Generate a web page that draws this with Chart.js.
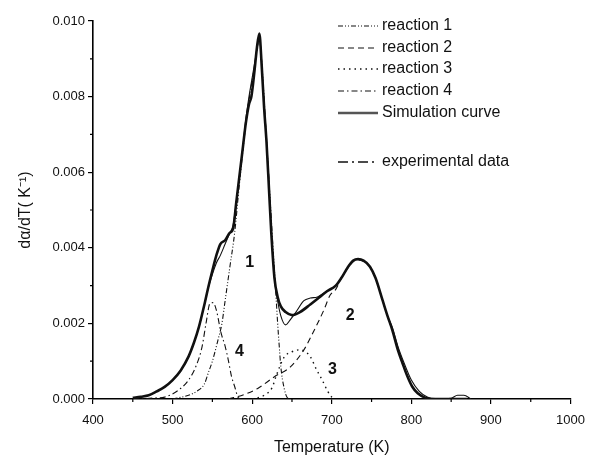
<!DOCTYPE html>
<html lang="en">
<head>
<meta charset="UTF-8">
<title>Reaction deconvolution</title>
<script src="https://cdn.jsdelivr.net/npm/chart.js"></script>
<style>
    html, body { margin: 0; padding: 0; background: #fff; }
    #wrap { width: 594px; height: 457px; }
</style>
</head>
<body>
<div id="wrap"><canvas id="chart" width="594" height="457"></canvas></div>
<script>
// values: temperature (K) and dα/dT (1/K)
const expT = [450,460,470,480,490,500,510,520,527,533,540,545,550,555,560,566,572,576,580,584,588,592,596,599,603,606,609,612,615,618,621,624,628,632,636,642,650,660,673,685,694,705,712,720,727,733,740,748,755,764,770,776,783,789,795,801,808,818,830,870];
const expY = [0.00003,0.00006,0.0001,0.0002,0.00032,0.0005,0.00075,0.00112,0.0015,0.0019,0.0025,0.00297,0.0034,0.0038,0.0041,0.0042,0.0044,0.0045,0.0052,0.0059,0.0066,0.0073,0.0078,0.0080,0.0087,0.0093,0.00967,0.0088,0.0077,0.0068,0.0056,0.0044,0.0032,0.0027,0.00245,0.0023,0.00222,0.0023,0.0025,0.0027,0.00285,0.003,0.0032,0.00348,0.00366,0.0037,0.00366,0.0035,0.0032,0.0026,0.0022,0.00183,0.0013,0.00094,0.0006,0.00033,0.00015,0.00003,0,0];

const simT = [450,460,470,480,490,500,510,520,527,533,540,545,550,555,560,566,572,576,580,584,588,592,596,600,604,607,609,612,615,618,621,624,628,632,636,642,648,655,665,673,682,694,705,712,720,727,733,740,748,755,764,770,776,783,790,800,810,820,830,850,858,866,875];
const simY = [0.00002,0.00005,0.0001,0.0002,0.00032,0.0005,0.00075,0.00112,0.0015,0.0019,0.0025,0.00295,0.0033,0.0036,0.0038,0.0041,0.0044,0.0046,0.0052,0.0059,0.0066,0.0074,0.0080,0.0085,0.0090,0.0094,0.0096,0.0089,0.0078,0.0069,0.0058,0.0045,0.0032,0.0026,0.0022,0.00196,0.0021,0.0023,0.0026,0.00267,0.0027,0.00285,0.003,0.0032,0.00348,0.00366,0.0037,0.00366,0.0035,0.0032,0.0026,0.0022,0.0019,0.0014,0.001,0.0005,0.0002,0.00005,0,0.00002,0.0001,0.0001,0];

const r1T = [500,520,530,540,545,550,557,562,566,572,578,584,590,596,603,609,613,617,621,625,628,630,632,634,636,640,644,648];
const r1Y = [0,0.0001,0.0002,0.0004,0.0007,0.001,0.00156,0.002,0.0026,0.0035,0.0044,0.0057,0.0069,0.0079,0.0088,0.0095,0.0086,0.0072,0.0058,0.0044,0.0034,0.0027,0.002,0.0014,0.00085,0.0003,0.00004,0];

const r2T = [570,590,607,628,648,665,677,690,698,705,712,720,727,733,740,748,755,764,770,776,783,789,795,801,808,818,830];
const r2Y = [0,0.00012,0.00028,0.00059,0.00085,0.0013,0.00178,0.00235,0.00275,0.0029,0.0032,0.00346,0.00364,0.00368,0.00364,0.0035,0.0032,0.0026,0.0022,0.00183,0.0013,0.00094,0.0006,0.00033,0.00015,0.00003,0];

const r3T = [600,615,625,630,640,650,660,667,673,681,688,695,700,703];
const r3Y = [0,0.0001,0.0003,0.0006,0.0011,0.00125,0.0013,0.00125,0.00112,0.00077,0.0005,0.0002,0.00005,0];

const r4T = [450,480,490,505,520,530,537,542,547,551,555,561,566,570,574,578,582,585];
const r4Y = [0,0.00003,0.00005,0.0002,0.0005,0.0009,0.00138,0.002,0.00253,0.00255,0.00235,0.00174,0.0014,0.00103,0.0006,0.00033,0.00005,0];

// peak numbers written on the plot
const peakText = ['1', '2', '3', '4'];
const peakT = [597, 723, 701, 584];
const peakY = [0.0036, 0.0022, 0.00077, 0.00125];

const xMinor = [450, 550, 650, 750, 850, 950];
const yMinor = [0.001, 0.003, 0.005, 0.007, 0.009];

const pts = (t, y) => t.map((v, i) => ({ x: v, y: y[i] }));

const FONT = '"Liberation Sans", Arial, sans-serif';

const minorTicks = {
    id: 'minorTicks',
    afterDraw(chart) {
        const { ctx, scales: { x, y } } = chart;
        ctx.save();
        ctx.strokeStyle = '#000';
        ctx.lineWidth = 1.2;
        ctx.beginPath();
        xMinor.forEach(v => {
            const px = x.getPixelForValue(v);
            ctx.moveTo(px, y.bottom);
            ctx.lineTo(px, y.bottom + 3);
        });
        yMinor.forEach(v => {
            const py = y.getPixelForValue(v);
            ctx.moveTo(x.left, py);
            ctx.lineTo(x.left - 3, py);
        });
        ctx.stroke();

        // numbers on the peaks
        ctx.fillStyle = '#111';
        ctx.font = 'bold 16px ' + FONT;
        ctx.textAlign = 'center';
        ctx.textBaseline = 'middle';
        peakText.forEach((s, i) => {
            ctx.fillText(s, x.getPixelForValue(peakT[i]), y.getPixelForValue(peakY[i]));
        });
        ctx.restore();
    }
};

// legend rows, top right
const legendRows = [26, 48, 69, 91, 113, 162];
const sideLegend = {
    id: 'sideLegend',
    afterDraw(chart) {
        const ctx = chart.ctx;
        ctx.save();
        ctx.font = '16px ' + FONT;
        ctx.textBaseline = 'middle';
        ctx.textAlign = 'left';
        chart.data.datasets.forEach((ds, i) => {
            const yy = legendRows[i];
            ctx.strokeStyle = ds.legendColor || ds.borderColor;
            ctx.lineWidth = ds.legendWidth || ds.borderWidth;
            ctx.setLineDash(ds.legendDash || ds.borderDash || []);
            ctx.beginPath();
            ctx.moveTo(338, yy);
            ctx.lineTo(378, yy);
            ctx.stroke();
            ctx.setLineDash([]);
            ctx.fillStyle = '#111';
            ctx.fillText(ds.label, 382, yy);
        });
        ctx.restore();
    }
};

const line = (label, t, y, dash, width) => ({
    label,
    data: pts(t, y),
    borderColor: '#111',
    borderWidth: width,
    borderDash: dash,
    pointRadius: 0,
    fill: false,
    cubicInterpolationMode: 'monotone'
});

const datasets = [
    line('reaction 1', r1T, r1Y, [5, 2, 1, 2, 1, 2], 1.1),
    line('reaction 2', r2T, r2Y, [6, 4], 1.1),
    line('reaction 3', r3T, r3Y, [1.5, 4], 1.4),
    line('reaction 4', r4T, r4Y, [6, 3, 1.5, 3], 1.1),
    Object.assign(line('Simulation curve', simT, simY, [], 1.1), { legendWidth: 2.5, legendColor: '#555' }),
    Object.assign(line('experimental data', expT, expY, [], 2.6), { legendDash: [10, 4, 2, 4], legendWidth: 1.6 })
];

new Chart(document.getElementById('chart'), {
    type: 'line',
    data: { datasets },
    options: {
        responsive: false,
        animation: false,
        layout: { padding: { left: 0, right: 17, top: 21, bottom: 0 } },
        plugins: { legend: { display: false }, tooltip: { enabled: false } },
        scales: {
            x: {
                type: 'linear',
                min: 400,
                max: 1000,
                afterFit: s => { s.height = 58; },
                ticks: { stepSize: 100, color: '#111', padding: 9, font: { family: FONT, size: 13 },
                         callback: v => String(v) },
                grid: { drawOnChartArea: false, drawTicks: true, tickLength: 5, color: '#000', lineWidth: 1.2 },
                border: { display: true, color: '#000', width: 1.6 },
                title: { display: true, text: 'Temperature (K)', color: '#111', padding: { top: 0, bottom: 0 }, font: { family: FONT, size: 16 } }
            },
            y: {
                min: 0,
                max: 0.010,
                afterFit: s => { s.width = 93; },
                ticks: { stepSize: 0.002, color: '#111', padding: 3, font: { family: FONT, size: 13 },
                         callback: v => v.toFixed(3) },
                grid: { drawOnChartArea: false, drawTicks: true, tickLength: 5, color: '#000', lineWidth: 1.2 },
                border: { display: true, color: '#000', width: 1.6 },
                title: { display: true, text: 'dα/dT( K⁻¹)', color: '#111', padding: { top: 16, bottom: 0 }, font: { family: FONT, size: 16 } }
            }
        }
    },
    plugins: [minorTicks, sideLegend]
});
</script>
</body>
</html>
